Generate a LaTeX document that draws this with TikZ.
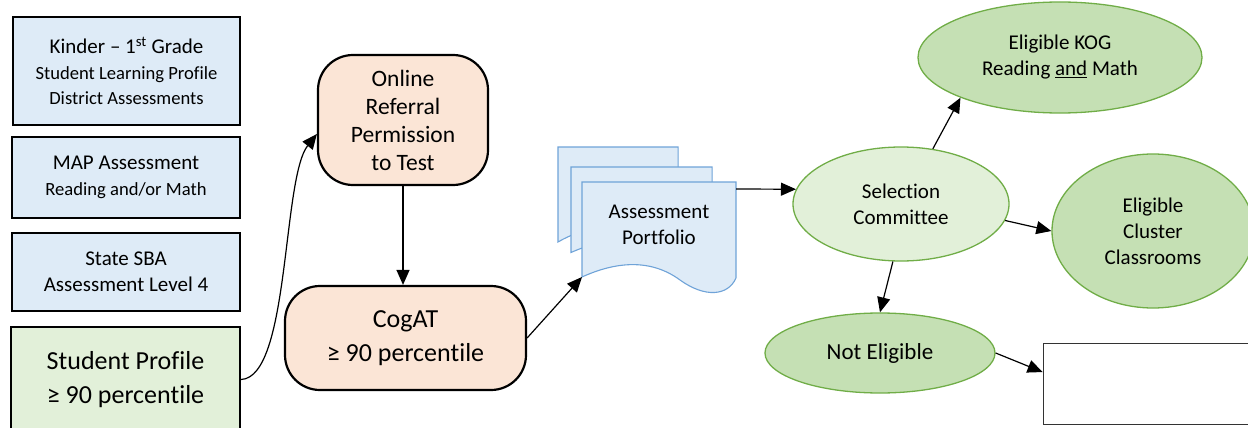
\documentclass[tikz,border=0pt]{standalone}
\usepackage{fontspec}
\setmainfont{Carlito}[Ligatures=CommonOff]
\usetikzlibrary{shapes.geometric,arrows.meta,positioning}
\definecolor{boxblue}{HTML}{DEEBF7}
\definecolor{boxgreen}{HTML}{E2F0D9}
\definecolor{boxpeach}{HTML}{FBE5D6}
\definecolor{ovalgreen}{HTML}{C5E0B4}
\definecolor{edgegreen}{HTML}{70AD47}
\definecolor{edgeblue}{HTML}{6FA3D8}
\newcommand\txtsmall{\fontsize{18.6}{25.5}\selectfont}
\newcommand\txtmain{\fontsize{21}{26}\selectfont}
\newcommand\txtref{\fontsize{23.5}{28}\selectfont}
\newcommand\txtbig{\fontsize{26}{34}\selectfont}
\newcommand\docsheet[4]{%
  \filldraw[sheet, shift={(#1,#2)}, xscale=#3, yscale=#4]
    (0,0) -- (154,0) -- (154,96) .. controls (146,114) and (123,116) .. (98,98)
    .. controls (68,76) and (33,80) .. (0,95) -- cycle;}

\begin{document}
\begin{tikzpicture}[x=1pt, y=-1pt,
    every node/.style={align=center, inner sep=0pt},
    lbox/.style={draw, line width=2.4pt, fill=boxblue, minimum width=228pt},
    rbox/.style={draw, line width=2.2pt, fill=boxpeach, rounded corners=35pt},
    oval/.style={ellipse, draw=edgegreen, line width=1.3pt, fill=ovalgreen, font=\txtmain},
    arr/.style={-{Triangle[length=15pt,width=13pt]}, line width=1.2pt},
    sheet/.style={draw=edgeblue, fill=boxblue, line width=1.1pt}]
%flow
                \useasboundingbox (0,0) rectangle (1248,428);
                \clip (0,0) rectangle (1248,428);
                \node [lbox, minimum width=227pt, minimum height=108pt, font=\txtsmall] (kinder) at (126.5,71)
                      {{\txtmain Kinder – 1\textsuperscript{st} Grade}\\ Student Learning Profile\\ District Assessments};
                \node [lbox, minimum height=81pt, font=\txtsmall] (map) at (126,177.5)
                      {{\txtmain MAP Assessment}\\ Reading and/or Math};
                \node [lbox, minimum height=78pt, font=\txtmain] (sba) at (126,272)
                      {State SBA\\ Assessment Level 4};
                \node [lbox, fill=boxgreen, minimum width=229pt, minimum height=105pt, font=\txtbig] (profile) at (125.5,379.5)
                      {Student Profile\\ ≥ 90 percentile};
                \node [rbox, minimum width=170pt, minimum height=130pt, font=\txtref] (referral) at (403,120)
                      {Online\\ Referral\\ Permission\\ to Test};
                \node [rbox, minimum width=241pt, minimum height=104pt, font=\txtbig] (cogat) at (405.5,338)
                      {CogAT\\ ≥ 90 percentile};
                \docsheet{558}{147}{0.78}{1}
                \docsheet{571}{167}{0.916}{0.9}
                \docsheet{582}{182}{1}{1}
                \node [font=\txtmain] (portfolio) at (659,225) {Assessment\\ Portfolio};
                \coordinate (docin) at (582,277);
                \coordinate (docout) at (736,189);
                \node [oval, fill=boxgreen, minimum width=216pt, minimum height=114pt] (committee) at (901,204)
                      {Selection\\ Committee};
                \node [oval, minimum width=284pt, minimum height=111pt] (kog) at (1060,57.5)
                      {Eligible KOG\\ Reading \underline{and} Math};
                \node [oval, minimum width=202pt, minimum height=154pt] (cluster) at (1153,231)
                      {Eligible\\ Cluster\\ Classrooms};
                \node [oval, font=\fontsize{23}{28}\selectfont, minimum width=230pt, minimum height=80pt] (noteligible) at (880,353)
                      {Not Eligible};
                \node [draw=black!80, line width=0.8pt, fill=white, minimum width=217pt, minimum height=81pt] (blank) at (1151.5,383.5) {};
                \draw [arr] (profile.east) .. controls (290,377) and (282,178) .. ([yshift=-14pt]referral.west);
                \draw [arr] (referral.south) -- (referral.south |- cogat.north);
                \draw [arr] (cogat.east) -- (docin);
                \draw [arr] (docout) -- (committee.172);
                \draw [arr] (committee.60) -- (kog.202);
                \draw [arr] (committee.-9) -- (cluster.west);
                \draw [arr] (committee.-98) -- (noteligible.north);
                \draw [arr] (noteligible.east) -- (blank.174);
\end{tikzpicture}
\end{document}
